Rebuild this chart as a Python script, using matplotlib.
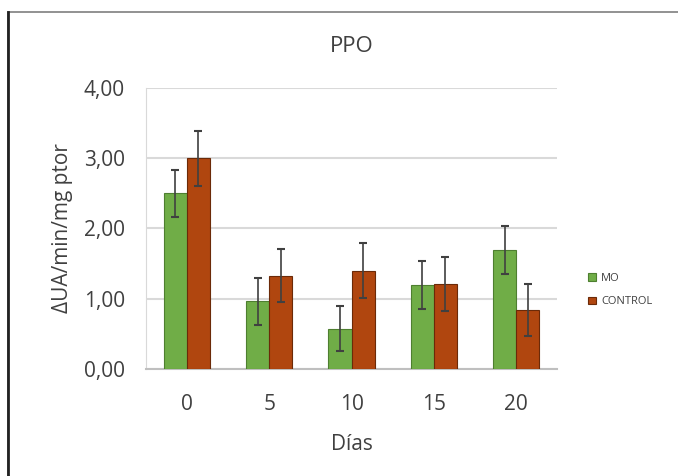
import matplotlib.pyplot as plt
import numpy as np
from matplotlib.patches import Rectangle

# data
dias = ['0', '5', '10', '15', '20']
mo = [2.50, 0.96, 0.57, 1.20, 1.69]
mo_err = [0.33, 0.33, 0.32, 0.34, 0.34]
control = [3.00, 1.33, 1.40, 1.21, 0.84]
control_err = [0.39, 0.38, 0.39, 0.39, 0.37]

green = '#70AD47'
brown = '#B0460F'

plt.rcParams['font.family'] = ['Open Sans', 'DejaVu Sans']

fig = plt.figure(figsize=(6.78, 4.76), dpi=100)
ax = fig.add_axes([0.215, 0.225, 0.607, 0.59])

x = np.arange(len(dias))
w = 0.28
err_kw = dict(ecolor='#404040', elinewidth=1.2, capsize=3, capthick=1.5)
ax.bar(x - w / 2, mo, w, yerr=mo_err, color=green, edgecolor='#4E7F30',
       linewidth=0.8, error_kw=err_kw, label='MO', zorder=3)
ax.bar(x + w / 2, control, w, yerr=control_err, color=brown, edgecolor='#6B2A08',
       linewidth=0.8, error_kw=err_kw, label='CONTROL', zorder=3)

ax.set_ylim(0, 4)
ax.set_xlim(-0.5, len(dias) - 0.5)
ax.set_yticks([0, 1, 2, 3, 4])
ax.set_yticklabels(['0,00', '1,00', '2,00', '3,00', '4,00'])
ax.set_xticks(x)
ax.set_xticklabels(dias)
ax.tick_params(length=0, labelsize=15, colors='#404040')
ax.tick_params(axis='x', pad=18)
ax.tick_params(axis='y', pad=15)
ax.grid(axis='y', color='#D9D9D9', linewidth=1.5, zorder=0)
for s in ['top', 'right']:
    ax.spines[s].set_visible(False)
ax.spines['left'].set_color('#D9D9D9')
ax.spines['bottom'].set_color('#BFBFBF')
ax.spines['bottom'].set_linewidth(1.5)

ax.set_title('PPO', fontsize=16, color='#404040', pad=26)
ax.set_xlabel('Días', fontsize=15, color='#404040', labelpad=14)
ax.set_ylabel('ΔUA/min/mg ptor', fontsize=15, color='#404040', labelpad=8)

ax.legend(loc='center left', bbox_to_anchor=(1.05, 0.28), frameon=False,
          fontsize=8, handlelength=0.7, handleheight=0.7, labelspacing=1.1,
          handletextpad=0.5, labelcolor='#404040')

# outer chart border
fig.patches.append(Rectangle((8 / 678, -0.01), 1.0, 1 - 12 / 476 + 0.01,
                             transform=fig.transFigure, fill=False,
                             edgecolor='#7F7F7F', linewidth=1.2))
fig.add_artist(plt.Line2D([8 / 678, 8 / 678], [0, 1 - 12 / 476],
                          transform=fig.transFigure, color='#222222', linewidth=2))

fig.savefig('out.png', dpi=100)
